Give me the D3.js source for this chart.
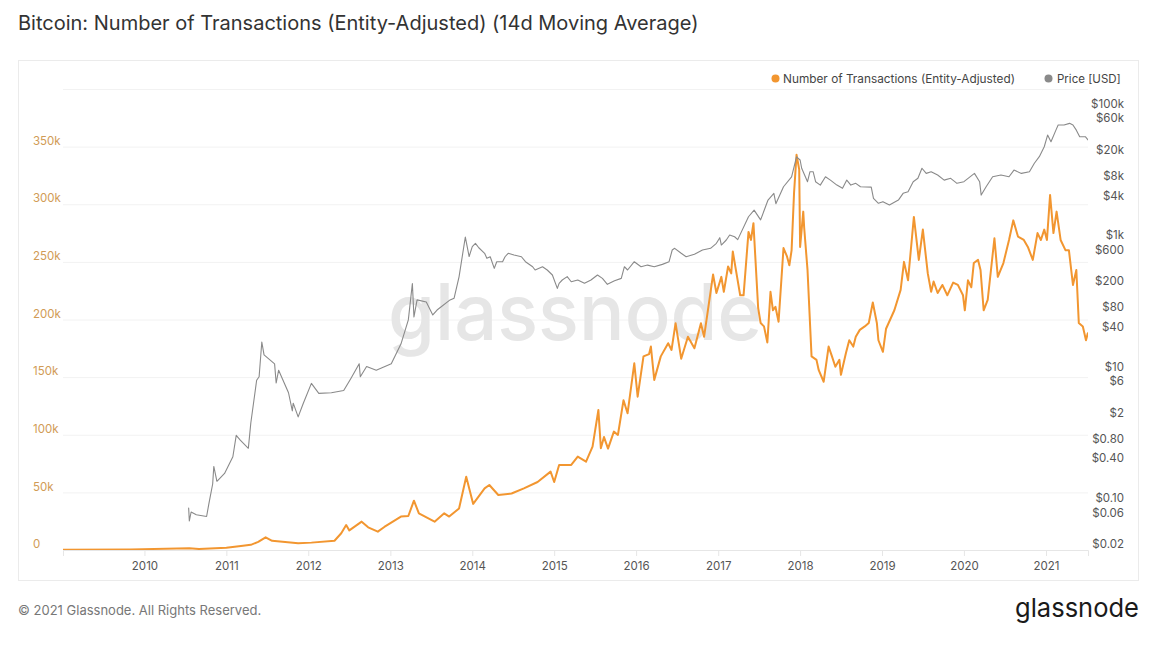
<!DOCTYPE html>
<html>
<head>
<meta charset="utf-8">
<script src="https://cdn.jsdelivr.net/npm/d3@7"></script>
<style>
	body { margin: 0; background: #fff; }
	svg { display: block; font-family: Inter, "Noto Sans", sans-serif; }
</style>
</head>
<body>
<script>
"use strict";

//entity-adjusted transaction count, 14d moving average
const txSeries = [
	["2009-01-03", 200], ["2009-11-01", 500], ["2010-07-20", 1500], ["2010-09-01", 900],
	["2011-01-01", 2000], ["2011-03-07", 3500], ["2011-04-20", 4500], ["2011-05-23", 7000],
	["2011-06-25", 11000], ["2011-07-24", 8000], ["2011-11-17", 5800], ["2012-01-15", 6400],
	["2012-04-27", 8000], ["2012-05-27", 14500], ["2012-06-18", 21700], ["2012-07-02", 17000],
	["2012-08-26", 24600], ["2012-09-24", 19700], ["2012-11-06", 15900], ["2012-12-05", 20000],
	["2013-02-17", 29000], ["2013-03-22", 29500], ["2013-04-16", 42800], ["2013-05-08", 31800],
	["2013-07-17", 24600], ["2013-08-29", 31800], ["2013-09-20", 29000], ["2013-11-03", 36000],
	["2013-12-05", 63600], ["2014-01-05", 40000], ["2014-02-25", 53500], ["2014-03-18", 56400],
	["2014-04-27", 47700], ["2014-06-25", 49000], ["2014-08-19", 53500], ["2014-10-19", 59000],
	["2014-12-16", 68000], ["2015-01-01", 59000], ["2015-01-23", 73800], ["2015-03-18", 73800],
	["2015-04-16", 81000], ["2015-05-23", 76600], ["2015-06-21", 89700], ["2015-07-17", 121500],
	["2015-07-28", 88300], ["2015-08-11", 98000], ["2015-08-29", 88000], ["2015-09-24", 102700],
	["2015-10-12", 99800], ["2015-11-06", 130000], ["2015-11-24", 118600], ["2015-12-24", 162000],
	["2016-01-08", 133000], ["2016-02-03", 168000], ["2016-02-28", 170000], ["2016-03-07", 176500],
	["2016-03-22", 147600], ["2016-04-20", 168000], ["2016-05-23", 179400], ["2016-06-07", 173600],
	["2016-06-25", 196800], ["2016-07-20", 166000], ["2016-08-19", 185000], ["2016-09-17", 175000],
	["2016-10-16", 196800], ["2016-10-30", 185000], ["2016-12-09", 239000], ["2016-12-24", 223000],
	["2017-01-15", 237000], ["2017-01-26", 224000], ["2017-02-14", 246000], ["2017-02-28", 240000],
	["2017-03-07", 259000], ["2017-04-09", 221000], ["2017-04-24", 221000], ["2017-05-16", 276000],
	["2017-05-27", 269000], ["2017-06-07", 283600], ["2017-06-28", 210000], ["2017-07-09", 197000],
	["2017-07-24", 194000], ["2017-08-08", 180000], ["2017-08-22", 224000], ["2017-09-02", 208000],
	["2017-09-13", 211000], ["2017-09-27", 198000], ["2017-10-19", 262000], ["2017-11-03", 255000],
	["2017-11-14", 247000], ["2017-11-24", 260000], ["2017-12-05", 310000], ["2017-12-16", 343000],
	["2017-12-28", 330000], ["2018-01-01", 263000], ["2018-01-15", 293600], ["2018-01-19", 280000],
	["2018-02-03", 243000], ["2018-02-21", 168000], ["2018-03-15", 165000], ["2018-03-25", 156000],
	["2018-04-16", 146000], ["2018-05-08", 176500], ["2018-05-23", 168000], ["2018-06-07", 159000],
	["2018-06-25", 165000], ["2018-07-02", 152000], ["2018-07-24", 170700], ["2018-08-08", 182000],
	["2018-08-26", 176500], ["2018-09-06", 185000], ["2018-09-24", 191000], ["2018-10-16", 194000],
	["2018-11-03", 197000], ["2018-11-21", 214700], ["2018-12-09", 197000], ["2018-12-16", 182000],
	["2019-01-05", 172000], ["2019-01-19", 192000], ["2019-02-25", 208000], ["2019-03-25", 225700],
	["2019-04-09", 250000], ["2019-04-27", 234000], ["2019-05-23", 289000], ["2019-06-14", 251700],
	["2019-07-02", 278000], ["2019-07-24", 240000], ["2019-08-08", 224000], ["2019-08-19", 233000],
	["2019-09-06", 223000], ["2019-09-27", 230000], ["2019-10-19", 221000], ["2019-11-14", 232000],
	["2019-12-05", 230000], ["2019-12-28", 221000], ["2020-01-05", 208000], ["2020-01-19", 234000],
	["2020-02-03", 228000], ["2020-02-14", 249000], ["2020-03-04", 251700], ["2020-03-15", 243000],
	["2020-03-29", 208000], ["2020-04-16", 217000], ["2020-05-16", 270500], ["2020-05-31", 237000],
	["2020-06-25", 249000], ["2020-07-20", 269000], ["2020-08-08", 286000], ["2020-08-29", 272000],
	["2020-09-24", 269000], ["2020-10-12", 263000], ["2020-11-03", 251700], ["2020-11-24", 275000],
	["2020-12-09", 269000], ["2020-12-24", 278000], ["2021-01-05", 269000], ["2021-01-19", 308000],
	["2021-02-03", 275000], ["2021-02-17", 293600], ["2021-03-07", 269000], ["2021-03-29", 260000],
	["2021-04-13", 260000], ["2021-05-01", 230000], ["2021-05-16", 243000], ["2021-05-27", 197000],
	["2021-06-14", 194000], ["2021-06-28", 182000], ["2021-07-06", 188000]
];

//price in USD, log axis
const priceSeries = [
	["2010-07-17", 0.086], ["2010-07-20", 0.055], ["2010-07-28", 0.075], ["2010-08-20", 0.068],
	["2010-10-05", 0.064], ["2010-10-15", 0.10], ["2010-11-01", 0.2], ["2010-11-06", 0.37],
	["2010-11-20", 0.22], ["2010-12-24", 0.29], ["2011-01-30", 0.52], ["2011-02-14", 1.1],
	["2011-03-04", 0.93], ["2011-04-09", 0.7], ["2011-04-20", 1.7], ["2011-05-16", 7.6],
	["2011-05-27", 8.6], ["2011-06-08", 29], ["2011-06-18", 18.5], ["2011-08-04", 13.5],
	["2011-08-11", 6.9], ["2011-08-22", 10.8], ["2011-10-05", 4.9], ["2011-10-22", 2.6],
	["2011-10-26", 3.4], ["2011-11-17", 2.1], ["2011-12-10", 3.4], ["2012-01-15", 6.8],
	["2012-02-17", 4.8], ["2012-04-13", 4.9], ["2012-06-07", 5.3], ["2012-07-09", 8.1],
	["2012-08-15", 13.5], ["2012-08-20", 8.6], ["2012-09-17", 12.3], ["2012-10-30", 10.8],
	["2013-01-05", 13.5], ["2013-02-17", 27], ["2013-03-22", 63], ["2013-04-09", 226],
	["2013-04-16", 70], ["2013-04-30", 127], ["2013-06-10", 118], ["2013-07-09", 75],
	["2013-07-28", 89], ["2013-09-24", 127], ["2013-10-12", 135], ["2013-11-03", 285],
	["2013-12-01", 1150], ["2013-12-18", 580], ["2014-01-01", 820], ["2014-01-15", 920],
	["2014-01-30", 790], ["2014-02-25", 650], ["2014-03-07", 545], ["2014-03-22", 576],
	["2014-04-09", 384], ["2014-04-20", 484], ["2014-05-16", 484], ["2014-05-27", 576],
	["2014-06-10", 650], ["2014-07-06", 612], ["2014-08-08", 576], ["2014-08-26", 484],
	["2014-09-27", 406], ["2014-10-08", 362], ["2014-11-10", 406], ["2014-12-01", 362],
	["2014-12-24", 304], ["2015-01-15", 190], ["2015-01-23", 227], ["2015-02-06", 255],
	["2015-02-28", 287], ["2015-03-18", 240], ["2015-04-16", 255], ["2015-05-16", 227],
	["2015-06-14", 255], ["2015-07-13", 304], ["2015-08-04", 270], ["2015-08-26", 219],
	["2015-09-27", 248], ["2015-10-27", 270], ["2015-11-10", 406], ["2015-11-24", 362],
	["2015-12-24", 484], ["2016-01-23", 406], ["2016-02-21", 430], ["2016-03-22", 406],
	["2016-04-27", 441], ["2016-05-27", 484], ["2016-06-10", 730], ["2016-06-21", 774],
	["2016-07-20", 650], ["2016-08-11", 576], ["2016-09-17", 627], ["2016-10-23", 730],
	["2016-11-28", 774], ["2016-12-24", 923], ["2017-01-08", 1123], ["2017-01-15", 869],
	["2017-02-06", 1036], ["2017-02-21", 1234], ["2017-03-15", 1160], ["2017-03-29", 1050],
	["2017-05-16", 2340], ["2017-06-10", 2950], ["2017-07-09", 2100], ["2017-08-11", 4200],
	["2017-09-06", 5300], ["2017-09-15", 3700], ["2017-10-19", 6700], ["2017-11-24", 9500],
	["2017-12-16", 19100], ["2018-01-01", 17100], ["2018-01-08", 12800], ["2018-02-03", 8000],
	["2018-02-14", 11350], ["2018-02-28", 11350], ["2018-03-11", 8000], ["2018-04-01", 7100],
	["2018-04-24", 9500], ["2018-05-16", 8450], ["2018-06-14", 7100], ["2018-07-09", 6340],
	["2018-07-28", 8450], ["2018-08-15", 7100], ["2018-09-06", 7550], ["2018-09-27", 6700],
	["2018-11-14", 6600], ["2018-11-24", 4460], ["2018-12-16", 3750], ["2019-01-05", 3970],
	["2019-02-03", 3530], ["2019-03-15", 4200], ["2019-04-05", 5320], ["2019-04-27", 5630],
	["2019-05-20", 8000], ["2019-06-10", 9000], ["2019-06-28", 12800], ["2019-07-17", 10700],
	["2019-08-08", 11350], ["2019-09-06", 10100], ["2019-10-05", 8450], ["2019-11-03", 9000],
	["2019-12-01", 7550], ["2020-01-01", 8000], ["2020-02-17", 10700], ["2020-03-11", 8000],
	["2020-03-18", 5000], ["2020-04-09", 6700], ["2020-05-08", 9500], ["2020-06-14", 10100],
	["2020-07-20", 9500], ["2020-08-11", 12000], ["2020-09-13", 10700], ["2020-10-19", 11350],
	["2020-11-10", 15250], ["2020-12-02", 19200], ["2020-12-24", 27200], ["2021-01-08", 41000],
	["2021-01-23", 32400], ["2021-02-14", 48700], ["2021-02-24", 58300], ["2021-03-22", 58300],
	["2021-04-16", 61800], ["2021-05-01", 58300], ["2021-05-16", 48700], ["2021-05-31", 38700],
	["2021-06-25", 38700], ["2021-07-07", 34500]
];

const txTicks = [0, 50000, 100000, 150000, 200000, 250000, 300000, 350000];
const gridTicks = [0, 50000, 100000, 150000, 200000, 250000, 300000, 350000, 400000];
const priceTicks = [100000, 60000, 20000, 8000, 4000, 1000, 600, 200, 80, 40, 10, 6, 2, 0.8, 0.4, 0.1, 0.06, 0.02];
const yearTicks = ["2010", "2011", "2012", "2013", "2014", "2015", "2016", "2017", "2018", "2019", "2020", "2021"];
const dateRange = ["2009-01-03", "2021-07-07"];

(function()
{
	let width = 1162, height = 648;
	let plot = {left: 63, right: 1088, top: 89, bottom: 550};
	let orange = "#f29630", grey = "#8a8a8a";

	let parse = d3.timeParse("%Y-%m-%d");

	let svg = d3.select("body").append("svg")
		.attr("width", width)
		.attr("height", height);

	//scales
	let x = d3.scaleTime()
		.domain(dateRange.map(parse))
		.range([plot.left, plot.right]);
	let yTx = d3.scaleLinear()
		.domain([0, 400000])
		.range([plot.bottom, plot.top]);
	let yPrice = d3.scaleLog()
		.domain([0.0198, 206000])
		.range([plot.bottom, plot.top]);

	//title and frame
	svg.append("text")
		.attr("x", 18)
		.attr("y", 30)
		.attr("font-size", 20)
		.attr("fill", "#333")
		.text("Bitcoin: Number of Transactions (Entity-Adjusted) (14d Moving Average)");

	svg.append("rect")
		.attr("x", 18.5)
		.attr("y", 60.5)
		.attr("width", 1120)
		.attr("height", 520)
		.attr("fill", "none")
		.attr("stroke", "#ebebeb");

	//grid lines
	let grid = svg.append("g")
		.attr("transform", "translate(" + plot.left + ",0)")
		.call(d3.axisLeft(yTx).tickValues(gridTicks).tickSize(-(plot.right - plot.left)).tickFormat(""));
	grid.select(".domain").remove();
	grid.selectAll(".tick line").attr("stroke", "#f2f2f2");

	//watermark
	svg.append("text")
		.attr("x", 575)
		.attr("y", 340)
		.attr("text-anchor", "middle")
		.attr("font-size", 78)
		.attr("font-weight", 500)
		.attr("fill", "#e6e6e6")
		.attr("textLength", 374)
		.attr("lengthAdjust", "spacingAndGlyphs")
		.text("glassnode");

	//left axis
	let leftAxis = svg.append("g")
		.attr("transform", "translate(33,0)")
		.call(d3.axisLeft(yTx).tickValues(txTicks).tickSize(0).tickPadding(0)
			.tickFormat(function(d) { return d === 0 ? "0" : (d / 1000) + "k"; }));
	leftAxis.select(".domain").remove();
	leftAxis.selectAll("text")
		.attr("text-anchor", "start")
		.attr("dy", "-0.2em")
		.attr("font-family", "Inter, sans-serif")
		.attr("font-size", 11.5)
		.attr("fill", "#d19b55");

	//right axis
	let priceFormat = function(d)
	{
		if (d >= 1000) return "$" + (d / 1000) + "k";
		if (d >= 1) return "$" + d;
		return "$" + d.toFixed(2);
	};
	let rightAxis = svg.append("g")
		.attr("transform", "translate(1124,0)")
		.call(d3.axisLeft(yPrice).tickValues(priceTicks).tickSize(0).tickPadding(0).tickFormat(priceFormat));
	rightAxis.select(".domain").remove();
	rightAxis.selectAll("text")
		.attr("dy", "-0.2em")
		.attr("font-family", "Inter, sans-serif")
		.attr("font-size", 11.5)
		.attr("fill", "#555");

	//x axis
	let xAxis = svg.append("g")
		.attr("transform", "translate(0," + plot.bottom + ")")
		.call(d3.axisBottom(x)
			.tickValues(yearTicks.map(function(y) { return parse(y + "-01-01"); }))
			.tickSize(6).tickPadding(6)
			.tickFormat(d3.timeFormat("%Y")));
	xAxis.select(".domain").attr("stroke", "#e6e6e6");
	xAxis.selectAll(".tick line").attr("stroke", "#e6e6e6");
	xAxis.selectAll("text")
		.attr("font-family", "Inter, sans-serif")
		.attr("font-size", 11.5)
		.attr("fill", "#555");

	//series
	svg.append("clipPath").attr("id", "plot-clip")
		.append("rect")
		.attr("x", plot.left)
		.attr("y", plot.top - 10)
		.attr("width", plot.right - plot.left)
		.attr("height", plot.bottom - plot.top + 10);

	let lines = svg.append("g")
		.attr("clip-path", "url(#plot-clip)")
		.attr("fill", "none")
		.attr("stroke-linejoin", "round")
		.attr("stroke-linecap", "round");

	let txLine = d3.line()
		.x(function(d) { return x(parse(d[0])); })
		.y(function(d) { return yTx(d[1]); });
	let priceLine = d3.line()
		.x(function(d) { return x(parse(d[0])); })
		.y(function(d) { return yPrice(d[1]); });

	lines.append("path")
		.attr("stroke", orange)
		.attr("stroke-width", 2)
		.attr("d", txLine(txSeries));
	lines.append("path")
		.attr("stroke", grey)
		.attr("stroke-width", 1.1)
		.attr("d", priceLine(priceSeries));

	//legend
	let legend = svg.append("g")
		.attr("font-size", 11.5)
		.attr("fill", "#444");
	legend.append("circle").attr("cx", 775.5).attr("cy", 78.5).attr("r", 4).attr("fill", orange);
	legend.append("text").attr("x", 783).attr("y", 82.5)
		.attr("textLength", 232).attr("lengthAdjust", "spacingAndGlyphs")
		.text("Number of Transactions (Entity-Adjusted)");
	legend.append("circle").attr("cx", 1048.5).attr("cy", 78.5).attr("r", 4).attr("fill", grey);
	legend.append("text").attr("x", 1057).attr("y", 82.5)
		.text("Price [USD]");

	//footer
	svg.append("text")
		.attr("x", 18)
		.attr("y", 615)
		.attr("font-size", 13)
		.attr("fill", "#777")
		.text("\u00a9 2021 Glassnode. All Rights Reserved.");
	svg.append("text")
		.attr("x", 1139)
		.attr("y", 617)
		.attr("text-anchor", "end")
		.attr("font-size", 26)
		.attr("font-weight", 400)
		.attr("fill", "#1a1a1a")
		.attr("textLength", 124)
		.attr("lengthAdjust", "spacingAndGlyphs")
		.text("glassnode");
})();
</script>
</body>
</html>
